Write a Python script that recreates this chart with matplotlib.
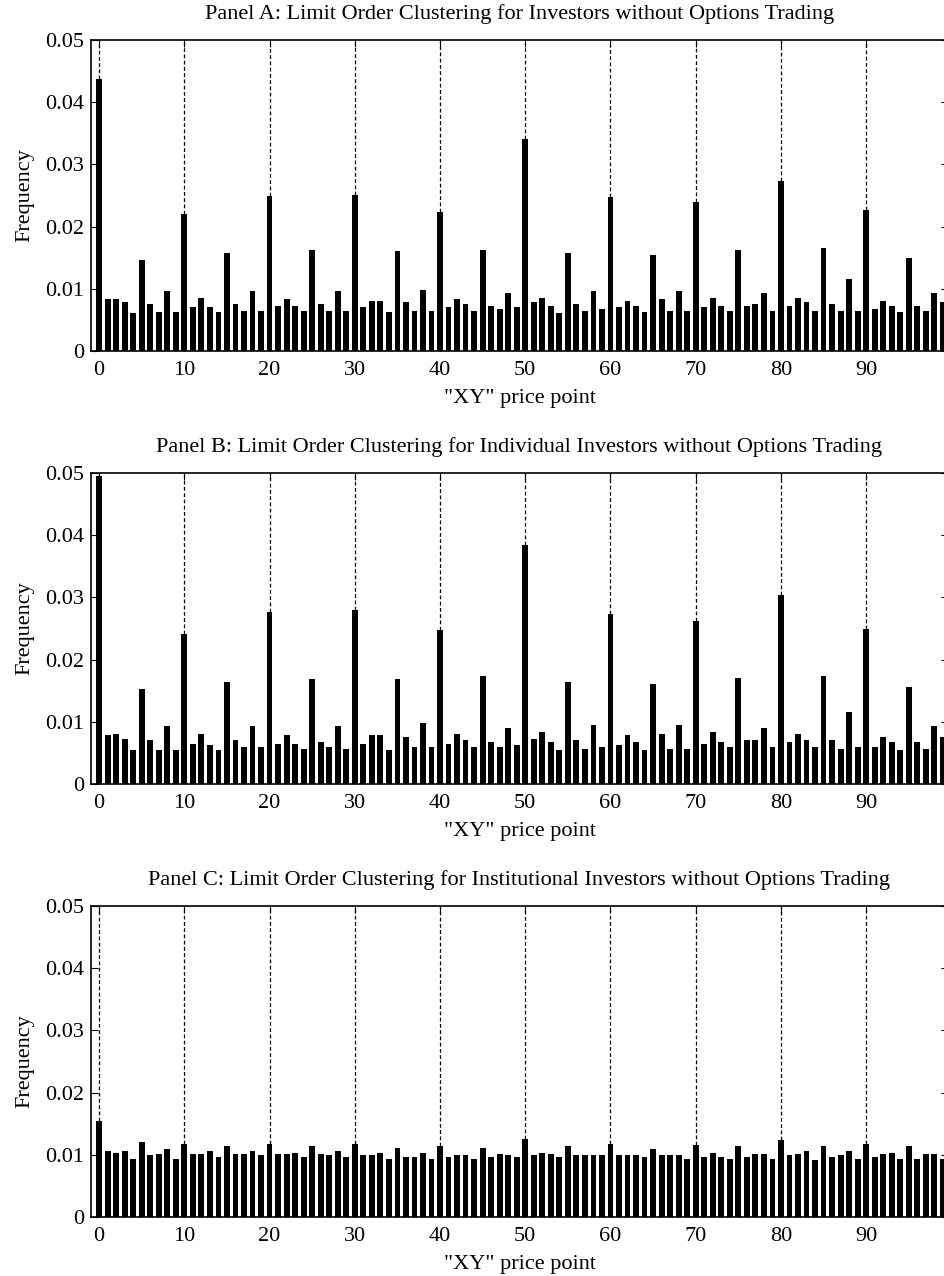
import numpy as np
import matplotlib
matplotlib.use("Agg")
import matplotlib.pyplot as plt

plt.rcParams['font.family'] = ['Liberation Serif', 'DejaVu Serif']

# "XY" price points 0..99
price_points = list(range(100))

# Panel A: all investors without options trading
freq_all = [
    0.0438, 0.0083, 0.0083, 0.0078, 0.0061, 0.0147, 0.0076, 0.0063, 0.0096, 0.0063,
    0.0221, 0.0070, 0.0086, 0.0070, 0.0063, 0.0157, 0.0076, 0.0065, 0.0096, 0.0065,
    0.0249, 0.0073, 0.0083, 0.0073, 0.0065, 0.0162, 0.0076, 0.0065, 0.0096, 0.0065,
    0.0251, 0.0070, 0.0080, 0.0080, 0.0063, 0.0160, 0.0078, 0.0065, 0.0098, 0.0065,
    0.0223, 0.0070, 0.0083, 0.0076, 0.0065, 0.0162, 0.0073, 0.0068, 0.0093, 0.0070,
    0.0341, 0.0078, 0.0086, 0.0073, 0.0061, 0.0157, 0.0076, 0.0065, 0.0096, 0.0068,
    0.0247, 0.0070, 0.0080, 0.0073, 0.0063, 0.0155, 0.0083, 0.0065, 0.0096, 0.0065,
    0.0239, 0.0070, 0.0086, 0.0073, 0.0065, 0.0162, 0.0073, 0.0076, 0.0093, 0.0065,
    0.0274, 0.0073, 0.0086, 0.0078, 0.0065, 0.0165, 0.0076, 0.0065, 0.0116, 0.0065,
    0.0226, 0.0068, 0.0080, 0.0073, 0.0063, 0.0150, 0.0073, 0.0065, 0.0093, 0.0078,
]

# Panel B: individual investors
freq_indiv = [
    0.0495, 0.0078, 0.0080, 0.0072, 0.0055, 0.0152, 0.0070, 0.0055, 0.0093, 0.0055,
    0.0241, 0.0065, 0.0080, 0.0063, 0.0055, 0.0164, 0.0070, 0.0060, 0.0093, 0.0060,
    0.0277, 0.0065, 0.0078, 0.0065, 0.0057, 0.0169, 0.0068, 0.0060, 0.0093, 0.0057,
    0.0279, 0.0065, 0.0078, 0.0078, 0.0055, 0.0169, 0.0075, 0.0060, 0.0098, 0.0060,
    0.0247, 0.0065, 0.0080, 0.0070, 0.0060, 0.0174, 0.0068, 0.0060, 0.0090, 0.0063,
    0.0384, 0.0072, 0.0083, 0.0068, 0.0055, 0.0164, 0.0070, 0.0057, 0.0095, 0.0060,
    0.0274, 0.0063, 0.0078, 0.0068, 0.0055, 0.0161, 0.0080, 0.0057, 0.0095, 0.0057,
    0.0262, 0.0065, 0.0083, 0.0068, 0.0060, 0.0171, 0.0070, 0.0070, 0.0090, 0.0060,
    0.0304, 0.0068, 0.0080, 0.0070, 0.0060, 0.0174, 0.0070, 0.0057, 0.0115, 0.0060,
    0.0249, 0.0060, 0.0075, 0.0068, 0.0055, 0.0156, 0.0068, 0.0057, 0.0093, 0.0075,
]

# Panel C: institutional investors
freq_inst = [
    0.0155, 0.0106, 0.0103, 0.0106, 0.0093, 0.0121, 0.0099, 0.0101, 0.0109, 0.0093,
    0.0118, 0.0101, 0.0101, 0.0106, 0.0096, 0.0114, 0.0101, 0.0101, 0.0106, 0.0099,
    0.0118, 0.0101, 0.0101, 0.0103, 0.0096, 0.0114, 0.0101, 0.0099, 0.0106, 0.0096,
    0.0118, 0.0099, 0.0099, 0.0103, 0.0093, 0.0111, 0.0096, 0.0096, 0.0103, 0.0093,
    0.0114, 0.0096, 0.0099, 0.0099, 0.0093, 0.0111, 0.0096, 0.0101, 0.0099, 0.0096,
    0.0126, 0.0099, 0.0103, 0.0101, 0.0096, 0.0114, 0.0099, 0.0099, 0.0099, 0.0099,
    0.0118, 0.0099, 0.0099, 0.0099, 0.0096, 0.0109, 0.0099, 0.0099, 0.0099, 0.0093,
    0.0116, 0.0096, 0.0103, 0.0096, 0.0093, 0.0114, 0.0096, 0.0101, 0.0101, 0.0093,
    0.0124, 0.0099, 0.0101, 0.0106, 0.0091, 0.0114, 0.0096, 0.0099, 0.0106, 0.0093,
    0.0118, 0.0096, 0.0101, 0.0103, 0.0093, 0.0114, 0.0093, 0.0101, 0.0101, 0.0093,
]

titles = [
    "Panel A: Limit Order Clustering for Investors without Options Trading",
    "Panel B: Limit Order Clustering for Individual Investors without Options Trading",
    "Panel C: Limit Order Clustering for Institutional Investors without Options Trading",
]
yticks = [0, 0.01, 0.02, 0.03, 0.04, 0.05]
ytick_labels = ["0", "0.01", "0.02", "0.03", "0.04", "0.05"]
xticks = [0, 10, 20, 30, 40, 50, 60, 70, 80, 90]

W, H = 944, 1276
fig = plt.figure(figsize=(W / 100, H / 100), dpi=100)

# axes boxes in pixels: (left, top, bottom); right edge runs just past the figure
boxes = [(91, 40, 351), (91, 473, 784), (91, 906, 1217)]
ax_w = 857

for (left, top, bottom), title, freq in zip(boxes, titles, [freq_all, freq_indiv, freq_inst]):
    ax = fig.add_axes([left / W, 1 - bottom / H, ax_w / W, (bottom - top) / H])
    ax.bar(price_points, freq, width=0.68, color='black', edgecolor='black', linewidth=0)
    # dashed guides above the round-number points
    rounds = [p for p in price_points if p % 10 == 0]
    ax.vlines(rounds, [freq[p] for p in rounds], 0.05, colors='black',
              linestyles=(0, (3, 2)), linewidth=0.9)
    ax.set_xlim(-0.95, 99.6)
    ax.set_ylim(0, 0.05)
    ax.set_xticks(xticks)
    ax.set_yticks(yticks)
    ax.set_yticklabels(ytick_labels)
    ax.tick_params(direction='in', top=True, right=True, length=5, width=0.8,
                   labelsize=16, pad=5)
    ax.tick_params(axis='x', pad=7)
    for s in ax.spines.values():
        s.set_linewidth(1.2)
    ax.set_title(title, fontsize=16, pad=15)
    ax.set_xlabel('"XY" price point', fontsize=16, labelpad=7)
    ax.set_ylabel('Frequency', fontsize=16, labelpad=8)

fig.savefig('out.png', dpi=100)
